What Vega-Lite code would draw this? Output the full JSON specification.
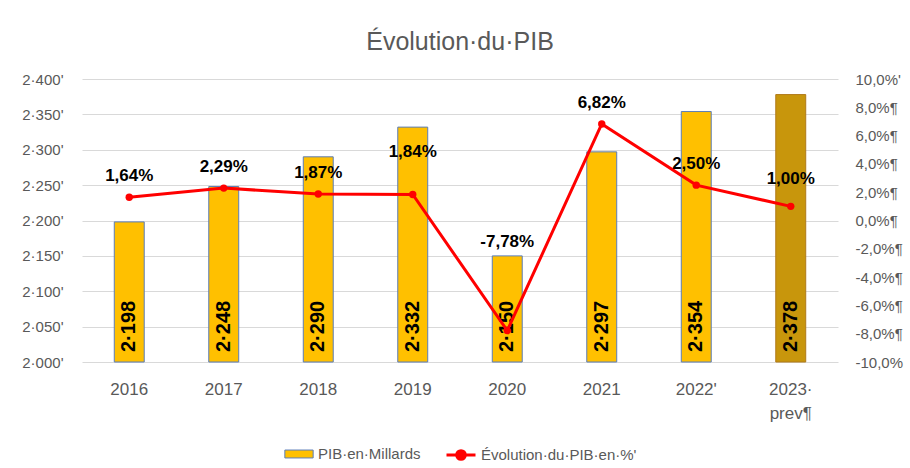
{
  "$schema": "https://vega.github.io/schema/vega-lite/v6.json",
  "width": 756,
  "height": 283,
  "autosize": {"type": "none"},
  "padding": {"left": 82, "top": 79, "right": 72, "bottom": 106},
  "background": "white",
  "title": {"text": "Évolution·du·PIB", "fontSize": 25, "font": "Liberation Sans", "fontWeight": "normal", "color": "#595959", "offset": 17, "anchor": "middle"},
  "config": {
    "view": {"stroke": null},
    "font": "Liberation Sans",
    "axis": {"labelOverlap": false, "labelFlush": false, "labelBound": false, "labelSeparation": 0},
    "legend": {"layout": {"bottom": {"anchor": "middle", "direction": "horizontal", "margin": 24}}}
  },
  "data": {"values": [
    {"year": "2016", "pib": 2198, "pct": 1.64},
    {"year": "2017", "pib": 2248, "pct": 2.29},
    {"year": "2018", "pib": 2290, "pct": 1.87},
    {"year": "2019", "pib": 2332, "pct": 1.84},
    {"year": "2020", "pib": 2150, "pct": -7.78},
    {"year": "2021", "pib": 2297, "pct": 6.82},
    {"year": "2022", "pib": 2354, "pct": 2.50},
    {"year": "2023", "pib": 2378, "pct": 1.00}
  ]},
  "transform": [
    {"calculate": "replace(format(datum.pib, ','), ',', '·')", "as": "pibLab"},
    {"calculate": "(datum.pct < 0 ? '-' : '') + replace(format(abs(datum.pct), '.2f'), '.', ',') + '%'", "as": "pctLab"}
  ],
  "encoding": {
    "x": {
      "field": "year", "type": "nominal", "sort": null,
      "scale": {"paddingInner": 0.683, "paddingOuter": 0.3415},
      "axis": {"title": null, "labelAngle": 0, "domain": false, "ticks": false, "tickSize": 0, "labelPadding": 19, "labelFontSize": 17, "labelColor": "#595959", "labelLineHeight": 24, "labelOverlap": false,
        "labelExpr": "datum.value == '2022' ? \"2022'\" : datum.value == '2023' ? ['2023·', 'prev¶'] : datum.value"}
    }
  },
  "layer": [
    {
      "layer": [
        {
          "mark": {"type": "bar", "strokeWidth": 1},
          "encoding": {
            "y": {"field": "pib", "type": "quantitative",
              "scale": {"domain": [2000, 2400], "zero": false, "nice": false},
              "axis": {"orient": "left", "title": null, "values": [2000, 2050, 2100, 2150, 2200, 2250, 2300, 2350, 2400], "grid": true, "gridColor": "#D9D9D9", "domain": false, "ticks": false, "tickSize": 0, "labelPadding": 19, "labelFontSize": 15, "labelColor": "#595959", "labelOverlap": false, "labelSeparation": 0, "labelFlush": false, "labelBound": false,
                "labelExpr": "replace(format(datum.value, ','), ',', '·') + \"'\""}},
            "y2": {"datum": 2000},
            "fill": {
              "datum": "PIB·en·Millards", "type": "nominal",
              "condition": {"test": "datum.year === '2023'", "value": "#C8960C"},
              "scale": {"range": ["#FFC000"]},
              "legend": {
                "title": null, "orient": "bottom", "direction": "horizontal", "offset": 18,
                "labelFontSize": 15, "labelColor": "#595959", "symbolSize": 800, "labelOffset": 4,
                "symbolType": "M-1,-0.28H1V0.28H-1Z", "symbolStrokeColor": "#5B7DB8", "symbolStrokeWidth": 1, "symbolOpacity": 1
              }
            },
            "stroke": {"condition": {"test": "datum.year === '2023'", "value": "#B07A1A"}, "value": "#5B7DB8"}
          }
        },
        {
          "mark": {"type": "text", "angle": 270, "align": "left", "baseline": "middle", "dx": 10, "fontSize": 20, "fontWeight": "bold", "color": "black"},
          "encoding": {
            "y": {"datum": 2000, "type": "quantitative",
              "axis": {"orient": "left", "title": null, "values": [2000, 2050, 2100, 2150, 2200, 2250, 2300, 2350, 2400], "grid": true, "gridColor": "#D9D9D9", "domain": false, "ticks": false, "tickSize": 0, "labelPadding": 19, "labelFontSize": 15, "labelColor": "#595959", "labelOverlap": false, "labelSeparation": 0, "labelFlush": false, "labelBound": false,
                "labelExpr": "replace(format(datum.value, ','), ',', '·') + \"'\""}},
            "text": {"field": "pibLab"}
          }
        }
      ]
    },
    {
      "layer": [
        {
          "mark": {"type": "line", "strokeWidth": 3},
          "encoding": {
            "y": {"field": "pct", "type": "quantitative",
              "scale": {"domain": [-10, 10], "nice": false, "zero": false},
              "axis": {"orient": "right", "title": null, "values": [-10, -8, -6, -4, -2, 0, 2, 4, 6, 8, 10], "grid": false, "domain": false, "ticks": false, "tickSize": 0, "labelPadding": 17, "labelFontSize": 15, "labelColor": "#595959", "labelOverlap": false, "labelSeparation": 0, "labelFlush": false, "labelBound": false,
                "labelExpr": "datum.value == 10 ? \"10,0%'\" : datum.value == -10 ? '-10,0%' : (datum.value < 0 ? '-' : '') + replace(format(abs(datum.value), '.1f'), '.', ',') + '%¶'"}},
            "stroke": {"datum": "Évolution·du·PIB·en·%'", "type": "nominal",
              "scale": {"range": ["#FF0000"]},
              "legend": {
                "title": null, "orient": "bottom", "direction": "horizontal", "offset": 18,
                "labelFontSize": 15, "labelColor": "#595959", "symbolSize": 841, "labelOffset": 4,
                "symbolType": "M-1,0H1M-0.3,0A0.3,0.3,0,1,0,0.3,0A0.3,0.3,0,1,0,-0.3,0",
                "symbolFillColor": "#FF0000", "symbolStrokeColor": "#FF0000", "symbolStrokeWidth": 3, "symbolOpacity": 1
              }
            }
          }
        },
        {
          "mark": {"type": "point", "filled": true, "size": 55, "color": "#FF0000", "opacity": 1},
          "encoding": {"y": {"field": "pct", "type": "quantitative",
              "axis": {"orient": "right", "title": null, "values": [-10, -8, -6, -4, -2, 0, 2, 4, 6, 8, 10], "grid": false, "domain": false, "ticks": false, "tickSize": 0, "labelPadding": 17, "labelFontSize": 15, "labelColor": "#595959", "labelOverlap": false, "labelSeparation": 0, "labelFlush": false, "labelBound": false,
                "labelExpr": "datum.value == 10 ? \"10,0%'\" : datum.value == -10 ? '-10,0%' : (datum.value < 0 ? '-' : '') + replace(format(abs(datum.value), '.1f'), '.', ',') + '%¶'"}}}
        },
        {
          "mark": {"type": "text", "fontSize": 17, "fontWeight": "bold", "color": "black", "baseline": "middle",
            "dy": {"expr": "datum.pct < 0 ? -89 : datum.year === '2019' ? -42 : datum.year === '2023' ? -27 : -21"}},
          "encoding": {
            "y": {"field": "pct", "type": "quantitative",
              "axis": {"orient": "right", "title": null, "values": [-10, -8, -6, -4, -2, 0, 2, 4, 6, 8, 10], "grid": false, "domain": false, "ticks": false, "tickSize": 0, "labelPadding": 17, "labelFontSize": 15, "labelColor": "#595959", "labelOverlap": false, "labelSeparation": 0, "labelFlush": false, "labelBound": false,
                "labelExpr": "datum.value == 10 ? \"10,0%'\" : datum.value == -10 ? '-10,0%' : (datum.value < 0 ? '-' : '') + replace(format(abs(datum.value), '.1f'), '.', ',') + '%¶'"}},
            "text": {"field": "pctLab"}
          }
        }
      ]
    }
  ],
  "resolve": {"scale": {"y": "independent"}}
}
